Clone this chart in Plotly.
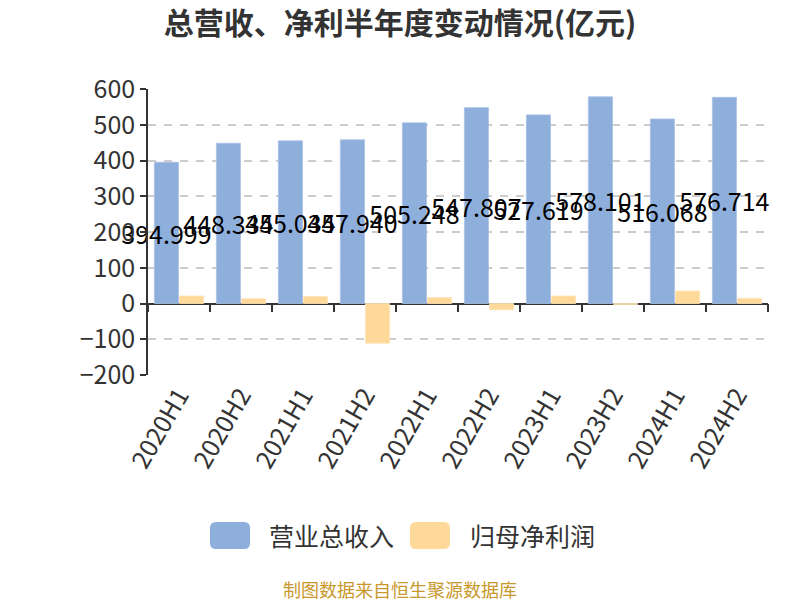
import plotly.graph_objects as go

categories = ["2020H1", "2020H2", "2021H1", "2021H2", "2022H1",
              "2022H2", "2023H1", "2023H2", "2024H1", "2024H2"]
revenue = [394.999, 448.334, 455.034, 457.940, 505.248,
           547.807, 527.619, 578.101, 516.068, 576.714]
net_profit = [21.0, 13.5, 20.0, -111.0, 16.5, -17.5, 21.0, -3.0, 35.0, 14.5]
rev_labels = [f"{v:.3f}" for v in revenue]

y_ticks = [-200, -100, 0, 100, 200, 300, 400, 500, 600]
series_names = ["营业总收入", "归母净利润"]
colors = ["#8eaedc", "#ffd99a"]

FONT = "Noto Sans CJK SC"

# page offset (body margin) compensation
OFF = 8
# plot area in screen pixels (reference), converted to figure pixels
L, R, T, B = 148 - OFF, 768 - OFF, 89 - OFF, 375 - OFF
W, H = R - L, B - T


def px2paper(x, y):
    x -= OFF
    y -= OFF
    return (x - L) / W, (B - y) / H


fig = go.Figure()
fig.add_trace(go.Bar(
    x=categories, y=revenue, name=series_names[0],
    marker=dict(color=colors[0], line=dict(color="#a9c1e4", width=0.8)),
    text=rev_labels, textposition="inside", insidetextanchor="middle",
    textangle=0, constraintext="none", cliponaxis=False,
    textfont=dict(color="#000000", size=25, family=FONT),
))
fig.add_trace(go.Bar(
    x=categories, y=net_profit, name=series_names[1],
    marker=dict(color=colors[1], line=dict(color="#ffe4b8", width=0.8)),
))
# empty helper trace so the zero-level category axis (line + boundary ticks) is drawn
fig.add_trace(go.Scatter(x=[None], y=[None], xaxis="x2", yaxis="y",
                         mode="markers", showlegend=False, hoverinfo="skip"))


def rounded_rect(x0, y0, x1, y1, r):
    def p(x, y):
        a, b = px2paper(x, y)
        return f"{a:.5f},{b:.5f}"
    return (f"M {p(x0 + r, y0)} L {p(x1 - r, y0)} Q {p(x1, y0)} {p(x1, y0 + r)} "
            f"L {p(x1, y1 - r)} Q {p(x1, y1)} {p(x1 - r, y1)} "
            f"L {p(x0 + r, y1)} Q {p(x0, y1)} {p(x0, y1 - r)} "
            f"L {p(x0, y0 + r)} Q {p(x0, y0)} {p(x0 + r, y0)} Z")


shapes = []
annotations = []
legend_boxes = [(210, 250), (410, 450)]
legend_text_x = [267, 468]
for (x0, x1), tx, name, col in zip(legend_boxes, legend_text_x, series_names, colors):
    shapes.append(dict(type="path", xref="paper", yref="paper",
                       path=rounded_rect(x0, 522, x1, 549, 6),
                       fillcolor=col, line=dict(width=0)))
    ax, ay = px2paper(tx, 535)
    annotations.append(dict(xref="paper", yref="paper", x=ax, y=ay,
                            xanchor="left", yanchor="middle", showarrow=False,
                            text=name, font=dict(size=25, color="#333333", family=FONT)))

fx, fy = px2paper(400, 589)
annotations.append(dict(xref="paper", yref="paper", x=fx, y=fy,
                        xanchor="center", yanchor="middle", showarrow=False,
                        text="制图数据来自恒生聚源数据库",
                        font=dict(size=18, color="#c8982c", family=FONT)))

zero_pos = (0 - y_ticks[0]) / (y_ticks[-1] - y_ticks[0])

fig.update_layout(
    width=800, height=600,
    margin=dict(l=L, r=800 - R, t=T, b=600 - B, pad=0),
    paper_bgcolor="white", plot_bgcolor="white",
    barmode="group", bargap=0.19, bargroupgap=0.04,
    showlegend=False,
    title=dict(text="<b>总营收、净利半年度变动情况(亿元)</b>",
               x=(400 - OFF) / 800, xanchor="center",
               y=1 - (23 - OFF) / 600, yanchor="middle",
               font=dict(size=30, color="#333333", family=FONT)),
    font=dict(family=FONT, color="#333333"),
    xaxis=dict(type="category", categoryarray=categories, range=[-0.5, 9.5],
               showline=False, ticks="", tickangle=-60,
               tickfont=dict(size=25, color="#333333", family=FONT),
               showgrid=False, zeroline=False),
    xaxis2=dict(overlaying="x", anchor="free", position=zero_pos,
                range=[-0.5, 9.5], tick0=-0.5, dtick=1, layer="below traces",
                showline=True, linecolor="#333333", linewidth=1.5,
                ticks="outside", ticklen=8, tickwidth=1.5, tickcolor="#333333",
                showticklabels=False, showgrid=False, zeroline=False),
    yaxis=dict(range=[y_ticks[0], y_ticks[-1]], tickvals=y_ticks,
               showline=True, linecolor="#333333", linewidth=1.5,
               ticks="outside", ticklen=6, tickwidth=1.5, tickcolor="#333333",
               tickfont=dict(size=25, color="#333333", family=FONT),
               showgrid=True, gridcolor="#cccccc", griddash="8px,8px", gridwidth=1.6,
               zeroline=False),
    shapes=shapes,
    annotations=annotations,
)

fig.write_html("out.html")
